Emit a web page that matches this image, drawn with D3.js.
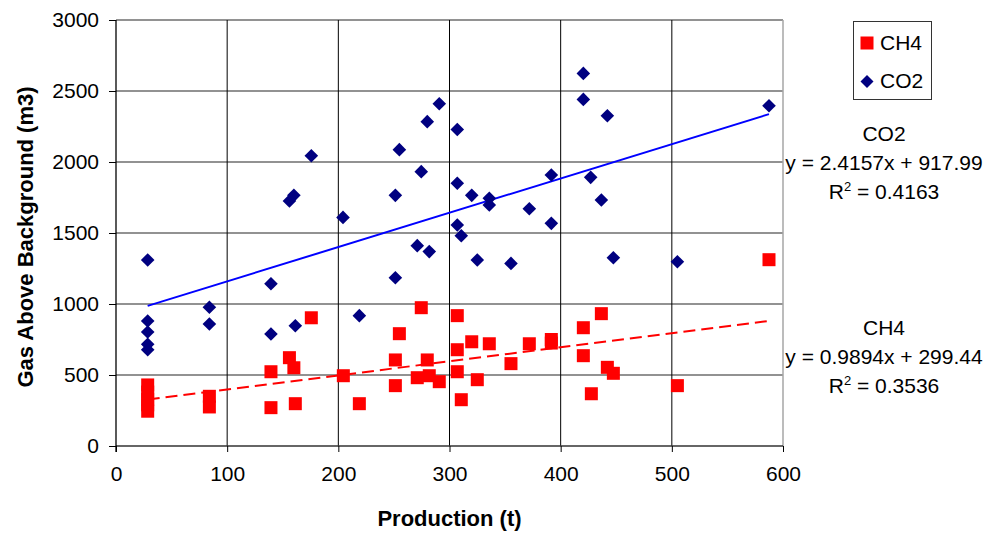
<!DOCTYPE html>
<html>
<head>
<meta charset="utf-8">
<script src="https://cdn.jsdelivr.net/npm/d3@7"></script>
<style>
  html, body { margin: 0; padding: 0; background: #fff; }
  svg { display: block; font-family: "Liberation Sans", Arial, sans-serif; }
</style>
</head>
<body>
<svg id="chart" width="993" height="534"></svg>
<script>
// ---- data ----
const co2X = [28.5, 28.5, 28.5, 28.5, 28.5, 84, 84, 139.4, 139.4, 161.3, 156, 160, 175.7, 204.2, 218.9,
  251.3, 251.3, 254.9, 271, 274.6, 280, 281.8, 290.8, 307, 307, 307, 310.6, 320, 325, 335.8, 335.8,
  355.3, 371.8, 391.6, 391.6, 420.4, 420.4, 427, 436.6, 442, 447.4, 505, 587.4];
const co2Y = [1310, 880, 803, 716, 678, 977, 859, 1143, 789, 847, 1725, 1765, 2044, 1610, 918,
  1765, 1185, 2087, 1411, 1932, 2284, 1369, 2410, 2229, 1850, 1556, 1481, 1765, 1310, 1744, 1697,
  1286, 1671, 1908, 1568, 2624, 2441, 1892, 1732, 2326, 1326, 1298, 2396];

const ch4X = [28.5, 28.5, 28.5, 28.5, 28.5, 84, 84, 139.4, 139.4, 156, 160, 161.3, 175.7, 204.5, 218.9,
  251.3, 251.3, 254.9, 271, 274.6, 280, 281.8, 290.8, 307, 307, 307, 310.6, 320, 325, 335.8,
  355.3, 371.8, 391.6, 391.6, 420.4, 420.4, 427.6, 436.6, 442, 447.4, 505, 587.4];
const ch4Y = [430, 380, 330, 290, 245, 350, 275, 523, 270, 622, 551, 298, 903, 495, 298,
  606, 425, 791, 481, 974, 606, 495, 453, 918, 678, 523, 326, 734, 467, 720,
  580, 720, 750, 725, 833, 636, 368, 932, 554, 512, 425, 1312];

const seriesNames = ["CH4", "CO2"];
const trendSlope = [0.9894, 2.4157];
const trendIntercept = [299.44, 917.99];
const trendR2 = ["0.3536", "0.4163"];
const trendEqText = ["y = 0.9894x + 299.44", "y = 2.4157x + 917.99"];

const xTicks = [0, 100, 200, 300, 400, 500, 600];
const yTicks = [0, 500, 1000, 1500, 2000, 2500, 3000];
const xTitle = "Production (t)";
const yTitle = "Gas Above Background (m3)";

// ---- layout ----
const svg = d3.select("#chart");
const L = 116, R = 783, T = 20, B = 446;
const FS = 21;
const x = d3.scaleLinear().domain([0, 600]).range([L, R]);
const y = d3.scaleLinear().domain([0, 3000]).range([B, T]);

// horizontal gridlines (grey)
svg.append("g").selectAll("line").data(yTicks.filter(d => d > 0)).join("line")
  .attr("x1", L).attr("x2", R).attr("y1", d => y(d)).attr("y2", d => y(d))
  .attr("stroke", "#6e6e6e").attr("stroke-width", 1.3);

// vertical gridlines (black)
svg.append("g").selectAll("line").data(xTicks.filter(d => d > 0 && d < 600)).join("line")
  .attr("x1", d => x(d)).attr("x2", d => x(d)).attr("y1", T).attr("y2", B)
  .attr("stroke", "#000").attr("stroke-width", 1);

// right border
svg.append("line").attr("x1", R).attr("x2", R).attr("y1", T).attr("y2", B)
  .attr("stroke", "#a6a6a6").attr("stroke-width", 1.5);

// axes
const xAxis = d3.axisBottom(x).tickValues(xTicks).tickSize(6).tickPadding(14).tickFormat(d3.format("d"));
const yAxis = d3.axisLeft(y).tickValues(yTicks).tickSize(7).tickPadding(10).tickFormat(d3.format("d"));

const gx = svg.append("g").attr("transform", `translate(0,${B})`).call(xAxis);
gx.select(".domain").attr("stroke", "#333").attr("stroke-width", 1.3).attr("d", `M${L},0H${R}`);
gx.selectAll(".tick line").attr("stroke", "#000");
gx.selectAll(".tick text").attr("font-size", FS).attr("fill", "#000")
  .attr("font-family", "'Liberation Sans', Arial, sans-serif");

const gy = svg.append("g").attr("transform", `translate(${L},0)`).call(yAxis);
gy.select(".domain").attr("stroke", "#000").attr("stroke-width", 1.3).attr("d", `M0,${T}V${B + 6}`);
gy.selectAll(".tick line").attr("stroke", "#000");
gy.selectAll(".tick text").attr("font-size", FS).attr("fill", "#000")
  .attr("font-family", "'Liberation Sans', Arial, sans-serif");

// axis titles
svg.append("text").attr("x", (L + R) / 2).attr("y", 526).attr("text-anchor", "middle")
  .attr("font-size", 22).attr("font-weight", "bold").text(xTitle);
svg.append("text").attr("transform", `translate(33,${(T + B) / 2 + 4}) rotate(-90)`)
  .attr("text-anchor", "middle").attr("font-size", 22).attr("font-weight", "bold").text(yTitle);

// trend lines
const lineGen = d3.line().x(d => x(d[0])).y(d => y(d[1]));
const xsAll = [ch4X, co2X];
const trendColor = ["#ff0000", "#0000ff"];
const trendDash = ["12,6", null];
[0, 1].forEach(i => {
  const ext = d3.extent(xsAll[i]);
  const pts = ext.map(v => [v, trendSlope[i] * v + trendIntercept[i]]);
  svg.append("path").attr("d", lineGen(pts)).attr("fill", "none")
    .attr("stroke", trendColor[i]).attr("stroke-width", 2)
    .attr("stroke-dasharray", trendDash[i]);
});

// markers
const sq = 13, dm = 6.8;
svg.append("g").selectAll("rect").data(ch4X.map((v, i) => [v, ch4Y[i]])).join("rect")
  .attr("x", d => x(d[0]) - sq / 2).attr("y", d => y(d[1]) - sq / 2)
  .attr("width", sq).attr("height", sq).attr("fill", "#ff0000");
svg.append("g").selectAll("path").data(co2X.map((v, i) => [v, co2Y[i]])).join("path")
  .attr("d", d => `M${x(d[0])},${y(d[1]) - dm}L${x(d[0]) + dm},${y(d[1])}L${x(d[0])},${y(d[1]) + dm}L${x(d[0]) - dm},${y(d[1])}Z`)
  .attr("fill", "#000080");

// legend
const lg = svg.append("g");
lg.append("rect").attr("x", 853.5).attr("y", 21.5).attr("width", 78).attr("height", 78)
  .attr("fill", "#fff").attr("stroke", "#333").attr("stroke-width", 1);
lg.append("rect").attr("x", 867 - 6.5).attr("y", 43 - 6.5).attr("width", 13).attr("height", 13).attr("fill", "#ff0000");
lg.append("path").attr("d", `M867,${81.5 - 6.5}L${867 + 6.5},81.5L867,${81.5 + 6.5}L${867 - 6.5},81.5Z`).attr("fill", "#000080");
lg.append("text").attr("x", 880).attr("y", 50).attr("font-size", FS).text(seriesNames[0]);
lg.append("text").attr("x", 880).attr("y", 88).attr("font-size", FS).text(seriesNames[1]);

// trend annotations
const annCx = 884;
const annTop = [335, 141];
[0, 1].forEach(i => {
  const g = svg.append("g").attr("font-size", FS).attr("text-anchor", "middle");
  g.append("text").attr("x", annCx).attr("y", annTop[i]).text(seriesNames[i]);
  g.append("text").attr("x", annCx).attr("y", annTop[i] + 29).text(trendEqText[i]);
  const t = g.append("text").attr("x", annCx).attr("y", annTop[i] + 58);
  t.append("tspan").text("R");
  t.append("tspan").attr("font-size", 13).attr("dy", -8).text("2");
  t.append("tspan").attr("dy", 8).text(" = " + trendR2[i]);
});
</script>
</body>
</html>
